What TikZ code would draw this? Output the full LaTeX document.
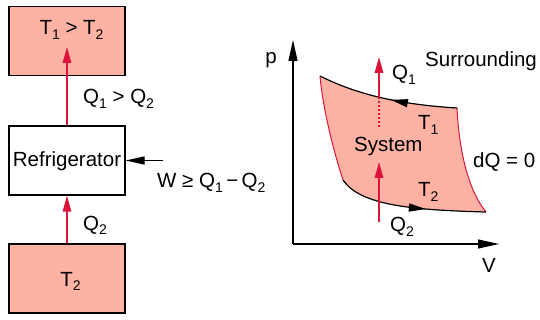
\documentclass[tikz,border=0pt]{standalone}
\usepackage{fontspec}
\setmainfont{Liberation Sans}
\usetikzlibrary{arrows.meta,decorations.markings}
\definecolor{salmon}{RGB}{253,178,164}
\definecolor{hred}{RGB}{220,20,60}
\newcommand{\sub}[1]{\raisebox{-4.5pt}{\fontsize{14}{14}\selectfont #1}}
\begin{document}
\begin{tikzpicture}[x=1pt,y=-1pt,
  txt/.style={font=\fontsize{20.5}{24}\selectfont, inner sep=0pt},
  box/.style={draw=black, line width=1.2pt, minimum width=116pt, minimum height=69pt, inner sep=0pt},
  hot/.style={box, fill=salmon},
  redarrow/.style={draw=hred, line width=1.5pt, -{Triangle[length=16pt,width=8.5pt]}},
  blkarrow/.style={draw=black, line width=1.2pt, -{Triangle[length=19pt,width=8pt]}},
  axis/.style={draw=black, line width=1.2pt, -{Triangle[length=21pt,width=9pt]}},
  redside/.style={draw=hred, line width=1pt},
  reddot/.style={draw=hred, line width=1.5pt, dash pattern=on 2pt off 2pt}]
\useasboundingbox (0,0) rectangle (540,320);
% left diagram
\node[hot] (hotbox) at (67,41) {};
\node[box] (fridge) at (67,160.5) {};
\node[hot] (coldbox) at (67,278.5) {};
\node[txt, anchor=base] (t1t2) at (71.5,35) {T\sub{1} > T\sub{2}};
\node[txt, anchor=base] (fridgetxt) at (67,167) {Refrigerator};
\node[txt, anchor=base] (t2txt) at (70.5,286) {T\sub{2}};
\coordinate (qtip) at (67,47);
\draw[redarrow] (fridge.north) -- (qtip);
\draw[redarrow] (coldbox.north) -- (fridge.south);
\coordinate (wstart) at (163,160.5);
\draw[blkarrow] (wstart) -- (fridge.east);
\node[txt, anchor=base west] (q1q2) at (83,104) {Q\sub{1} > Q\sub{2}};
\node[txt, anchor=base west] (wlbl) at (157,188) {W ≥ Q\sub{1}\,−\,Q\sub{2}};
\node[txt, anchor=base west] (q2lbl) at (83,230) {Q\sub{2}};
% right diagram
\coordinate (origin) at (293,244);
\coordinate (ytop) at (293,40);
\coordinate (xend) at (499,244);
\fill[salmon] (320,76) .. controls (350,91) and (390,104) .. (457,108)
  .. controls (459,150) and (468,190) .. (486,212)
  .. controls (410,210) and (360,205) .. (343,180)
  .. controls (330,140) and (322,100) .. (320,76) -- cycle;
\draw[redside] (320,76) .. controls (322,100) and (330,140) .. (343,180);
\draw[redside] (457,108) .. controls (459,150) and (468,190) .. (486,212);
\draw[line width=1.2pt, postaction={decorate}, decoration={markings,
  mark=at position 0.47 with {\arrow{Triangle[length=17pt,width=8pt]}}}]
  (457,108) .. controls (390,104) and (350,91) .. (320,76);
\draw[line width=1.2pt, postaction={decorate}, decoration={markings,
  mark=at position 0.6 with {\arrow{Triangle[length=17pt,width=8pt]}}}]
  (343,180) .. controls (360,205) and (410,210) .. (486,212);
\draw[axis] (origin) -- (ytop);
\draw[axis] (origin) -- (xend);
\coordinate (q1base) at (379,127);
\coordinate (q1cross) at (379,98);
\coordinate (q1tip) at (379,57);
\draw[reddot] (q1base) -- (q1cross);
\draw[redarrow] (q1cross) -- (q1tip);
\coordinate (q2base) at (379,222);
\coordinate (q2tip) at (379,162);
\draw[redarrow] (q2base) -- (q2tip);
\node[txt, anchor=base] (plbl) at (271,64) {p};
\node[txt, anchor=base] (vlbl) at (489,272) {V};
\node[txt, anchor=base west] (q1r) at (392,80) {Q\sub{1}};
\node[txt, anchor=base west] (surr) at (425,67) {Surrounding};
\node[txt, anchor=base west] (t1r) at (418,130) {T\sub{1}};
\node[txt, anchor=base west] (sys) at (354,152) {System};
\node[txt, anchor=base west] (dq) at (473,168) {dQ = 0};
\node[txt, anchor=base west] (t2r) at (418,197) {T\sub{2}};
\node[txt, anchor=base west] (q2r) at (390,232) {Q\sub{2}};
\end{tikzpicture}
\end{document}
